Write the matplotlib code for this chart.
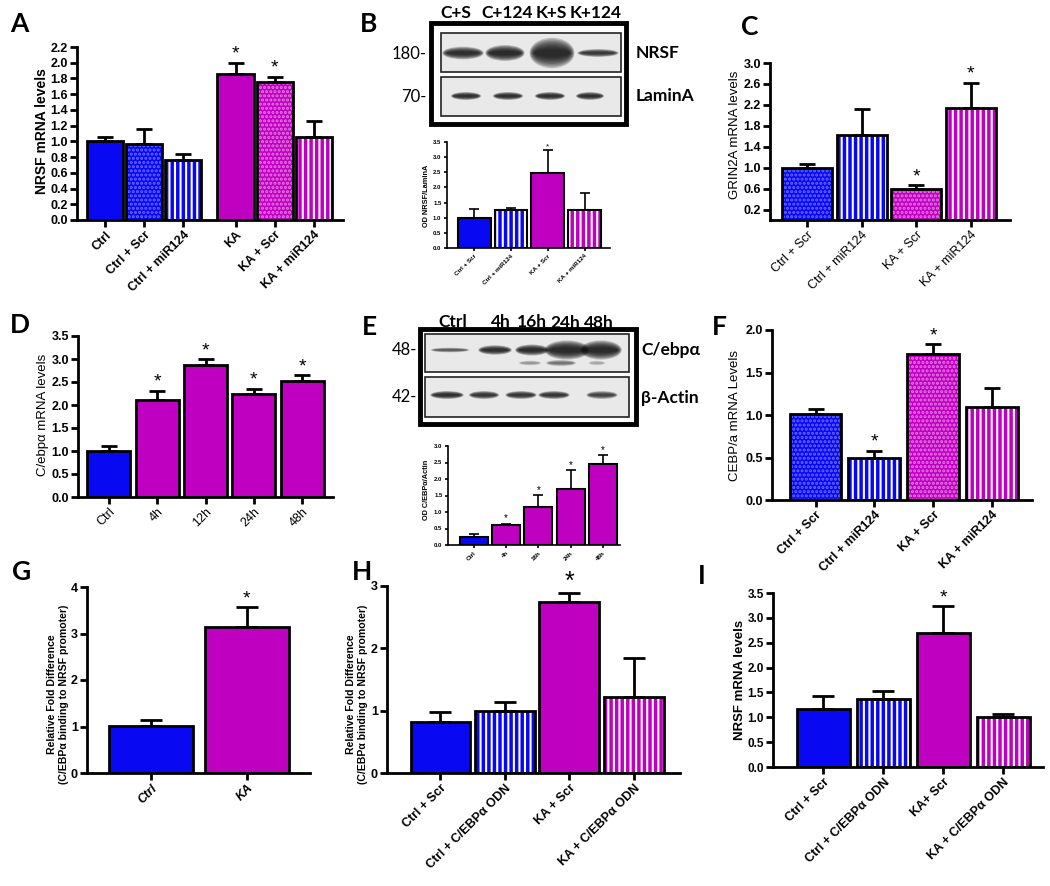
import matplotlib
matplotlib.use("Agg")
import matplotlib.pyplot as plt
from matplotlib.patches import Rectangle, Ellipse
import numpy as np

plt.rcParams['font.family'] = ['Liberation Sans', 'DejaVu Sans']
plt.rcParams['hatch.linewidth'] = 1.5

W, H = 1050, 886
BLUE = '#0808f2'
MAG = '#c000c0'
DOT = {BLUE: '#6a6aff', MAG: '#e47ae4'}

# ---- data (mean, SEM) ----
a_labels = ["Ctrl", "Ctrl + Scr", "Ctrl + miR124", "KA", "KA + Scr", "KA + miR124"]
a_mean = [1.00, 0.97, 0.76, 1.86, 1.75, 1.05]
a_sem = [0.05, 0.19, 0.08, 0.14, 0.07, 0.21]
a_star = [0, 0, 0, 1, 1, 0]

b_labels = ["Ctrl + Scr", "Ctrl + miR124", "KA + Scr", "KA + miR124"]
b_mean = [1.00, 1.25, 2.48, 1.25]
b_sem = [0.30, 0.07, 0.74, 0.56]
b_star = [0, 0, 1, 0]

c_labels = ["Ctrl + Scr", "Ctrl + miR124", "KA + Scr", "KA + miR124"]
c_mean = [1.00, 1.63, 0.59, 2.14]
c_sem = [0.07, 0.50, 0.07, 0.48]
c_star = [0, 0, 1, 1]

d_labels = ["Ctrl", "4h", "12h", "24h", "48h"]
d_mean = [1.00, 2.10, 2.86, 2.23, 2.53]
d_sem = [0.11, 0.21, 0.14, 0.12, 0.12]
d_star = [0, 1, 1, 1, 1]

e_labels = ["Ctrl", "4h", "16h", "24h", "48h"]
e_mean = [0.25, 0.62, 1.16, 1.71, 2.46]
e_sem = [0.08, 0.03, 0.36, 0.57, 0.28]
e_star = [0, 1, 1, 1, 1]

f_labels = ["Ctrl + Scr", "Ctrl + miR124", "KA + Scr", "KA + miR124"]
f_mean = [1.01, 0.50, 1.72, 1.10]
f_sem = [0.06, 0.08, 0.11, 0.22]
f_star = [0, 1, 1, 0]

g_labels = ["Ctrl", "KA"]
g_mean = [1.01, 3.14]
g_sem = [0.12, 0.42]
g_star = [0, 1]

h_labels = ["Ctrl + Scr", "Ctrl + C/EBP\u03b1 ODN", "KA + Scr", "KA + C/EBP\u03b1 ODN"]
h_mean = [0.82, 1.00, 2.75, 1.22]
h_sem = [0.16, 0.14, 0.13, 0.62]
h_star = [0, 0, 1, 0]

i_labels = ["Ctrl + Scr", "Ctrl + C/EBP\u03b1 ODN", "KA+ Scr", "KA + C/EBP\u03b1 ODN"]
i_mean = [1.16, 1.37, 2.70, 1.01]
i_sem = [0.26, 0.15, 0.53, 0.06]
i_star = [0, 0, 1, 0]

fig = plt.figure(figsize=(W / 100, H / 100), dpi=100)
ov = fig.add_axes([0, 0, 1, 1])
ov.set_xlim(0, W)
ov.set_ylim(H, 0)
ov.axis('off')


def make_ax(x0, x1, ytop, ybot):
    return fig.add_axes([x0 / W, 1 - ybot / H, (x1 - x0) / W, (ybot - ytop) / H])


def bars(ax, pos, means, sems, colors, fills, width, lw=2.0, cap=6, elw=2.0):
    for x, m, c, f in zip(pos, means, colors, fills):
        if f == 'd':
            ax.bar(x, m, width, color=c, edgecolor=DOT[c], hatch='....', linewidth=0, zorder=2)
        elif f == 'v':
            ax.bar(x, m, width, color=c, edgecolor='white', hatch='|||', linewidth=0, zorder=2)
        else:
            ax.bar(x, m, width, color=c, linewidth=0, zorder=2)
        ax.bar(x, m, width, fill=False, edgecolor='black', linewidth=lw, zorder=3)
    ax.errorbar(pos, means, yerr=[np.zeros(len(sems)), sems], fmt='none', ecolor='black',
                elinewidth=elw, capsize=cap, capthick=elw, zorder=4)


def style(ax, xlim, ylim, yticks, pos, labels, fs=9, lfs=9, weight='bold', lw=2.0,
          tlen=5, yfmt='{:.1f}', italic=False):
    ax.set_xlim(*xlim)
    ax.set_ylim(*ylim)
    for s in ['top', 'right']:
        ax.spines[s].set_visible(False)
    for s in ['left', 'bottom']:
        ax.spines[s].set_linewidth(lw)
    ax.set_yticks(yticks)
    ax.set_yticklabels([yfmt.format(t) for t in yticks], fontsize=fs, fontweight='bold')
    ax.set_xticks(pos)
    ax.set_xticklabels(labels, fontsize=lfs, fontweight=weight, rotation=45, ha='right',
                       rotation_mode='anchor', style='italic' if italic else 'normal')
    ax.tick_params(axis='both', direction='out', width=lw, length=tlen, pad=1.5)
    ax.patch.set_alpha(0)


def stars(ax, pos, means, sems, flags, fs=14, off=0):
    for x, m, s, f in zip(pos, means, sems, flags):
        if f:
            ax.annotate('*', (x, m + s), xytext=(0, off), textcoords='offset points',
                        ha='center', va='bottom', fontsize=fs)


def ylab(x, y, txt, fs, weight='bold'):
    ov.text(x, y, txt, rotation=90, ha='center', va='center', fontsize=fs, fontweight=weight,
            linespacing=1.3)


def letter(x, y, t):
    ov.text(x, y, t, fontsize=19, fontweight='bold', family='Lato', ha='left', va='center')


def band(xc, yc, w, h, dark):
    for k in np.linspace(1.6, 0.4, 9):
        ov.add_patch(Ellipse((xc, yc), w * (0.8 + 0.2 * k), h * k, color=(0.06, 0.06, 0.06),
                             alpha=0.2 * dark, lw=0, zorder=5))


def blot(outer, inner_x, rows):
    x0, y0, x1, y1 = outer
    ov.add_patch(Rectangle((x0, y0), x1 - x0, y1 - y0, fill=False, lw=3.5, ec='black', zorder=6))
    for (ya, yb) in rows:
        ov.add_patch(Rectangle((inner_x[0], ya), inner_x[1] - inner_x[0], yb - ya,
                               fc='#e9e9e9', ec='#222222', lw=1.2, zorder=4))


# ---- A ----
pA = [0, 1, 2, 3.33, 4.33, 5.33]
axA = make_ax(77, 343, 47, 220)
bars(axA, pA, a_mean, a_sem, [BLUE] * 3 + [MAG] * 3, ['s', 'd', 'v'] * 2, 0.92)
style(axA, (-0.71, 6.07), (0, 2.2), np.arange(0, 2.21, 0.2), pA, a_labels)
stars(axA, pA, a_mean, a_sem, a_star)
ylab(42, 131, "NRSF mRNA levels", 10)
letter(10, 24, "A")

# ---- B ----
letter(360, 24, "B")
blot((431, 23, 626, 124), (441, 621), [(33, 72), (77, 116)])
for xc, w, h, d in [(463, 37, 8, 0.9), (505, 35, 10, 1.0), (552, 40, 19, 1.0), (598, 37, 5, 0.8)]:
    band(xc, 53, w, h, d)
for xc, w in [(466, 27), (508, 27), (550, 27), (590, 25)]:
    band(xc, 96, w, 5, 0.9)
for xc, t in [(456, "C+S"), (507, "C+124"), (551, "K+S"), (596, "K+124")]:
    ov.text(xc, 13, t, ha='center', va='center', fontsize=12.5, fontweight='bold', family='Lato')
ov.text(427, 54, "180-", ha='right', va='center', fontsize=12, family='Lato')
ov.text(427, 97, "70-", ha='right', va='center', fontsize=12, family='Lato')
ov.text(636, 53, "NRSF", ha='left', va='center', fontsize=12.5, fontweight='bold', family='Lato')
ov.text(636, 96, "LaminA", ha='left', va='center', fontsize=12.5, fontweight='bold', family='Lato')
pB = np.arange(4)
axB = make_ax(447, 610, 142, 248)
bars(axB, pB, b_mean, b_sem, [BLUE, BLUE, MAG, MAG], ['s', 'v', 's', 'v'], 0.89, lw=1.5, cap=3.5, elw=1.2)
style(axB, (-0.74, 3.69), (0, 3.5), np.arange(0, 3.51, 0.5), pB, b_labels, fs=4.3, lfs=4.5,
      lw=1.2, tlen=2.5)
stars(axB, pB, b_mean, b_sem, b_star, fs=6)
ylab(426, 196, "OD NRSF/LaminA", 5.3)

# ---- C ----
letter(741, 27, "C")
pC = np.arange(4)
axC = make_ax(770, 1010, 63, 220)
bars(axC, pC, c_mean, c_sem, [BLUE, BLUE, MAG, MAG], ['d', 'v', 'd', 'v'], 0.92)
style(axC, (-0.68, 3.72), (0, 3.0), np.arange(0.2, 3.01, 0.4), pC, c_labels, weight='normal')
stars(axC, pC, c_mean, c_sem, c_star)
ylab(735, 135, "GRIN2A mRNA levels", 9.5, weight='normal')

# ---- D ----
letter(10, 325, "D")
pD = np.arange(5)
axD = make_ax(78, 333, 336, 497)
bars(axD, pD, d_mean, d_sem, [BLUE] + [MAG] * 4, ['s'] * 5, 0.89)
style(axD, (-0.64, 4.64), (0, 3.5), np.arange(0, 3.51, 0.5), pD, d_labels, weight='normal')
stars(axD, pD, d_mean, d_sem, d_star)
ylab(43, 415, "C/ebp\u03b1 mRNA levels", 9.5, weight='normal')

# ---- E ----
letter(362, 327, "E")
blot((420, 329, 636, 424), (425, 629), [(334, 372), (377, 417)])
for xc, w, h, d in [(450, 35, 3, 0.55), (495, 30, 6, 0.9), (532, 30, 7, 0.95), (567, 40, 12, 1.0),
                    (601, 37, 12, 1.0)]:
    band(xc, 350, w, h, d)
for xc, w, h, d in [(530, 20, 3, 0.25), (561, 27, 4, 0.4), (597, 15, 3, 0.2)]:
    band(xc, 363, w, h, d)
for xc, w, d in [(447, 30, 0.9), (484, 27, 0.85), (521, 28, 0.85), (554, 28, 0.85), (602, 28, 0.7)]:
    band(xc, 395, w, 5, d)
for xc, t, yy in [(453, "Ctrl", 322), (501, "4h", 322), (532, "16h", 322), (565, "24h", 323),
                  (599, "48h", 323)]:
    ov.text(xc, yy, t, ha='center', va='center', fontsize=12.5, fontweight='bold', family='Lato')
ov.text(417, 350, "48-", ha='right', va='center', fontsize=12, family='Lato')
ov.text(417, 397, "42-", ha='right', va='center', fontsize=12, family='Lato')
ov.text(641, 350, "C/ebp\u03b1", ha='left', va='center', fontsize=12.5, fontweight='bold', family='Lato')
ov.text(641, 398, "\u03b2-Actin", ha='left', va='center', fontsize=12.5, fontweight='bold', family='Lato')
pE = np.arange(5)
axE = make_ax(448, 620, 446, 545)
bars(axE, pE, e_mean, e_sem, [BLUE] + [MAG] * 4, ['s'] * 5, 0.86, lw=1.5, cap=3.5, elw=1.2)
style(axE, (-0.79, 4.52), (0, 3.0), np.arange(0, 3.01, 0.5), pE, e_labels, fs=4.3, lfs=4.5,
      lw=1.2, tlen=2.5)
stars(axE, pE, e_mean, e_sem, e_star, fs=7)
ylab(426, 490, "OD C/EBP\u03b1/Actin", 5.3)

# ---- F ----
letter(712, 327, "F")
pF = np.arange(4)
axF = make_ax(772, 1032, 330, 500)
bars(axF, pF, f_mean, f_sem, [BLUE, BLUE, MAG, MAG], ['d', 'v', 'd', 'v'], 0.88)
style(axF, (-0.74, 3.68), (0, 2.0), np.arange(0, 2.01, 0.5), pF, f_labels)
stars(axF, pF, f_mean, f_sem, f_star)
ylab(735, 415, "CEBP/a mRNA Levels", 9.5, weight='normal')

# ---- G ----
letter(12, 572, "G")
pG = np.arange(2)
axG = make_ax(87, 310, 587, 773)
bars(axG, pG, g_mean, g_sem, [BLUE, MAG], ['s', 's'], 0.88, cap=8)
style(axG, (-0.67, 1.66), (0, 4), np.arange(0, 4.1, 1), pG, g_labels, yfmt='{:.0f}', italic=True)
stars(axG, pG, g_mean, g_sem, g_star)
ylab(58, 694, "Relative Fold Difference\n(C/EBP\u03b1 binding to NRSF promoter)", 7.6)

# ---- H ----
letter(352, 572, "H")
pH = np.arange(4)
axH = make_ax(387, 680, 586, 773)
bars(axH, pH, h_mean, h_sem, [BLUE, BLUE, MAG, MAG], ['s', 'v', 's', 'v'], 0.93, cap=8)
style(axH, (-0.83, 3.72), (0, 3), np.arange(0, 3.1, 1), pH, h_labels, yfmt='{:.0f}')
stars(axH, pH, h_mean, h_sem, h_star, fs=18)
ylab(357, 694, "Relative Fold Difference\n(C/EBP\u03b1 binding to NRSF promoter)", 7.6)

# ---- I ----
letter(698, 576, "I")
pI = np.arange(4)
axI = make_ax(773, 1043, 593, 767)
bars(axI, pI, i_mean, i_sem, [BLUE, BLUE, MAG, MAG], ['s', 'v', 's', 'v'], 0.88, cap=8)
style(axI, (-0.84, 3.66), (0, 3.5), np.arange(0, 3.51, 0.5), pI, i_labels, fs=8.5)
stars(axI, pI, i_mean, i_sem, i_star)
ylab(740, 680, "NRSF mRNA levels", 9.5)

fig.savefig("out.png", dpi=100)
